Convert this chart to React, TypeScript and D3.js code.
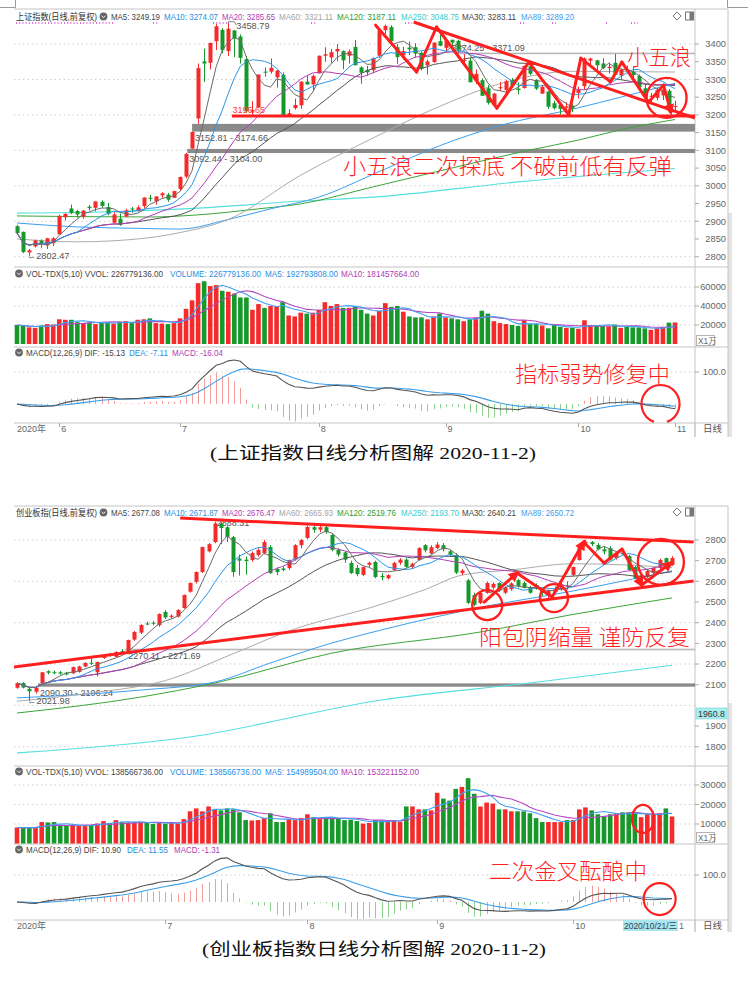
import React from 'react';
import * as d3 from 'd3';

type OHLC = [number, number, number, number];
type Knot = [number, number];

// ====================== 上证指数 (daily, 2020-05-21 .. 2020-11-02) ======================
const SH_OHLC: OHLC[] = [
  [2886, 2890, 2864, 2867], [2870, 2871, 2810, 2813], [2812, 2822, 2802.47, 2818], [2829, 2848, 2826, 2846],
  [2845, 2849, 2825, 2837], [2832, 2853, 2822, 2852], [2838, 2855, 2830, 2852],
  [2863, 2919, 2863, 2915], [2911, 2922, 2902, 2921], [2936, 2947, 2920, 2923], [2929, 2932, 2910, 2919],
  [2913, 2932, 2907, 2930], [2941, 2946, 2930, 2937], [2938, 2956, 2928, 2956], [2955, 2959, 2938, 2943],
  [2940, 2952, 2917, 2921], [2896, 2925, 2894, 2919], [2907, 2922, 2887, 2890], [2913, 2935, 2913, 2931],
  [2936, 2940, 2924, 2935], [2929, 2945, 2928, 2939], [2943, 2967, 2937, 2967], [2966, 2975, 2956, 2965],
  [2956, 2970, 2947, 2970], [2973, 2982, 2966, 2979], [2975, 2980, 2955, 2961], [2966, 2986, 2966, 2985],
  [2991, 3026, 2985, 3025], [3026, 3092.44, 3021, 3090], [3105, 3152.81, 3104, 3152], [3190, 3345, 3174.66, 3332],
  [3351, 3387, 3293, 3345], [3347, 3404, 3328, 3403], [3408, 3456, 3383, 3450], [3440, 3445, 3374, 3383],
  [3380, 3458.79, 3366, 3443], [3438, 3440, 3363, 3415], [3421, 3427, 3345, 3361], [3357, 3366, 3205, 3210],
  [3209, 3239, 3200, 3214], [3221, 3314, 3221, 3314], [3322, 3334, 3308, 3320], [3322, 3359, 3316, 3333],
  [3306, 3327, 3277, 3325], [3313, 3320, 3196.65, 3197], [3197, 3216, 3197, 3205], [3219, 3246, 3215, 3228],
  [3227, 3294, 3217, 3294], [3294, 3311, 3285, 3286], [3286, 3314, 3270, 3310],
  [3317, 3367, 3317, 3367], [3367, 3391, 3350, 3371], [3362, 3386, 3347, 3377], [3379, 3400, 3351, 3386],
  [3380, 3382, 3329, 3354], [3367, 3385, 3345, 3379], [3392, 3411, 3340, 3340], [3334, 3337, 3288, 3319],
  [3327, 3338, 3311, 3320], [3326, 3362, 3317, 3360], [3367, 3438, 3361, 3438], [3439, 3455, 3428, 3451],
  [3448, 3453, 3401, 3408], [3391, 3400, 3344, 3363], [3368, 3392, 3356, 3380], [3390, 3407, 3369, 3385],
  [3391, 3402, 3361, 3373], [3375, 3379, 3326, 3330], [3340, 3356, 3314, 3351], [3349, 3404, 3347, 3404],
  [3408, 3426, 3394, 3395],
  [3389, 3412, 3380, 3410], [3412, 3412, 3389, 3404], [3409, 3412, 3374.25, 3384], [3354, 3371.09, 3345, 3355],
  [3353, 3362, 3292, 3292], [3296, 3328, 3287, 3316], [3298, 3303, 3254, 3254], [3275, 3284, 3229, 3234],
  [3227, 3262, 3222, 3260], [3276, 3293, 3268, 3278], [3270, 3299, 3262, 3295], [3299, 3304, 3282, 3283],
  [3274, 3292, 3258, 3270], [3276, 3339, 3274, 3338], [3337, 3341, 3312, 3316], [3299, 3300, 3270, 3274],
  [3260, 3285, 3260, 3279], [3266, 3266, 3217, 3223], [3233, 3240, 3215, 3219], [3228, 3233, 3201, 3217],
  [3220, 3236, 3213, 3224], [3226, 3230, 3208, 3218],
  [3262, 3280, 3246, 3272], [3281, 3362, 3271, 3359], [3353, 3361, 3335, 3359], [3354, 3355, 3327, 3340],
  [3345, 3360, 3329, 3332], [3332, 3348, 3317, 3336], [3347, 3372, 3313, 3313], [3311, 3330, 3300, 3328],
  [3329, 3339, 3317, 3325], [3322, 3336, 3306, 3312], [3310, 3314, 3269, 3278], [3275, 3290, 3243, 3251],
  [3253, 3262, 3236, 3254], [3248, 3276, 3241, 3270], [3255, 3275, 3242, 3272], [3268, 3273, 3220, 3225],
  [3223, 3240, 3209, 3225],
];
const SH_VOL: number[] = [
  20000, 19000, 17500, 17000, 19500, 21000, 20500,
  26000, 25500, 25500, 23000, 22000, 22500, 21000, 22500, 23000, 21500, 23500, 24000, 22000, 25500, 26000, 27000, 22000, 21500, 21000, 22000,
  27000, 37000, 46000, 64000, 66000, 61000, 62000, 56000, 55000, 53000, 49000, 49000, 36000, 42000, 38000, 40000, 40000, 44000, 30000, 29000, 33000, 32000, 33000,
  36000, 44000, 40000, 42000, 38000, 38000, 40000, 36000, 32000, 30000, 35000, 43000, 39000, 40000, 34000, 29000, 28000, 28000, 26000, 29000, 32000,
  28000, 27000, 26000, 24000, 26000, 28000, 35000, 32000, 24000, 22000, 21000, 20000, 19000, 25000, 21000, 21000, 19500, 16500, 20500, 18000, 17000, 17000,
  16000, 25000, 20000, 19000, 19000, 18500, 20500, 17000, 18000, 17500, 17500, 16500, 15000, 16500, 17500, 22500, 22678,
];
const SH_MA60: Knot[] = [[0, 2850], [10, 2842], [20, 2850], [27, 2868], [35, 2905], [47, 3030], [59, 3135], [70, 3224], [80, 3288], [92, 3323], [100, 3322], [109, 3321]];
const SH_MA89: Knot[] = [[0, 2895], [10, 2884], [20, 2880], [27, 2878], [35, 2905], [42, 2935], [50, 2968], [60, 3040], [70, 3113], [80, 3170], [93, 3220], [100, 3250], [109, 3289]];
const SH_MA120: Knot[] = [[0, 2915], [22, 2912], [30, 2918], [40, 2935], [47, 2949], [59, 2997], [72, 3050], [85, 3101], [93, 3129], [100, 3158], [109, 3187]];
const SH_MA250: Knot[] = [[0, 2923], [14, 2926], [30, 2937], [47, 2957], [59, 2968], [83, 3011], [109, 3049]];
const SH_MONTHS: [number, string][] = [[7, '6'], [27, '7'], [50, '8'], [71, '9'], [93, '10'], [109, '11']];
const SH_PRICE_TICKS = [2800, 2850, 2900, 2950, 3000, 3050, 3100, 3150, 3200, 3250, 3300, 3350, 3400];
const SH_PRICE_GRID = [2800, 2900, 3000, 3100, 3200, 3300, 3400];
const SH_VOL_TICKS = [20000, 40000, 60000];
const SH_HEADER = ['上证指数(日线,前复权)', 'MA5: 3249.19', 'MA10: 3274.07', 'MA20: 3285.65', 'MA60: 3321.11', 'MA120: 3187.11', 'MA250: 3048.75', 'MA30: 3283.11', 'MA89: 3289.20'];
const SH_VOL_HEADER = ['VOL-TDX(5,10) VVOL: 226779136.00', 'VOLUME: 226779136.00', 'MA5: 192793808.00', 'MA10: 181457664.00'];
const SH_MACD_HEADER = ['MACD(12,26,9) DIF: -15.13', 'DEA: -7.11', 'MACD: -16.04'];
const SH_GAPS: [number, number, number][] = [[72.5, 3371.09, 3374.25], [29, 3152.81, 3174.66], [28.2, 3092.44, 3104.0]];
const SH_GAP_LABELS = ['3374.25 - 3371.09', '3152.81 - 3174.66', '3092.44 - 3104.00'];
const SH_HIGH_MARK: Knot = [35, 3458.79];
const SH_LOW_MARK: Knot = [2, 2802.47];
const SH_ZIGZAG: Knot[] = [[59.4, 3453], [66.2, 3321], [69.5, 3448], [79.5, 3219], [84.8, 3349], [91.4, 3200], [93.4, 3360], [98.3, 3293], [100.2, 3349], [104.6, 3236], [107.1, 3284], [108.3, 3208]];
const SH_TREND: Knot[] = [[65.7, 3462], [112.3, 3191]];
const SH_SUPPORT: Knot[] = [[35.6, 3196.65], [112.3, 3196.65]];
const SH_CIRCLE: Knot = [107.6, 3248];
const SH_MACD_CIRCLE: Knot = [106.6, 0];
const SH_NOTES = ['小五浪', '小五浪二次探底  不破前低有反弹', '指标弱势修复中'];
const SH_CAPTION = '(上证指数日线分析图解 2020-11-2)';

// ====================== 创业板指 (daily, 2020-05-26 .. 2020-11-02) ======================
const CY_OHLC: OHLC[] = [
  [2085, 2112, 2080, 2108], [2108, 2112, 2082, 2086], [2080, 2086, 2021.98, 2068], [2066, 2090.3, 2058, 2086],
  [2107, 2162, 2106.24, 2160], [2165, 2170, 2150, 2158], [2160, 2168, 2150, 2159], [2160, 2166, 2148, 2154],
  [2158, 2162, 2145, 2150], [2155, 2188, 2152, 2185], [2162, 2192, 2158, 2188], [2188, 2210, 2185, 2205],
  [2206, 2228, 2195, 2204], [2160, 2212, 2140, 2210], [2232, 2245, 2225, 2234], [2246, 2255, 2236, 2243],
  [2235, 2262, 2230, 2258], [2262, 2272, 2255, 2260], [2260, 2318, 2258, 2316], [2318, 2360, 2312, 2355],
  [2352, 2392, 2345, 2389], [2396, 2405, 2388, 2394], [2400, 2408, 2388, 2396], [2388, 2445, 2380, 2442],
  [2452, 2460, 2418, 2425], [2428, 2440, 2420, 2434], [2430, 2465, 2425, 2461], [2471, 2536, 2468, 2534],
  [2550, 2594, 2545, 2592], [2598, 2648, 2590, 2645], [2645, 2768, 2640, 2766], [2745, 2785, 2740, 2780],
  [2790, 2888.31, 2785, 2880], [2880, 2886, 2780, 2858], [2862, 2870, 2790, 2814], [2814, 2820, 2622, 2645],
  [2710, 2730, 2628, 2700], [2705, 2720, 2632, 2698], [2703, 2745, 2695, 2737], [2727, 2760, 2720, 2752],
  [2737, 2800, 2730, 2790], [2766, 2775, 2636, 2640], [2660, 2668, 2630, 2645], [2662, 2672, 2648, 2655],
  [2664, 2705, 2655, 2703], [2706, 2780, 2700, 2775], [2775, 2805, 2760, 2800],
  [2810, 2870, 2805, 2863], [2862, 2868, 2835, 2850], [2850, 2872, 2838, 2862], [2862, 2870, 2830, 2838],
  [2824, 2830, 2745, 2752], [2752, 2760, 2720, 2730], [2740, 2745, 2690, 2705], [2689, 2700, 2635, 2640],
  [2665, 2680, 2625, 2635], [2631, 2672, 2625, 2669], [2680, 2695, 2670, 2690], [2694, 2700, 2615, 2621],
  [2626, 2640, 2605, 2620], [2615, 2635, 2610, 2630], [2655, 2695, 2650, 2689], [2690, 2712, 2680, 2705],
  [2705, 2712, 2665, 2670], [2670, 2690, 2660, 2685], [2703, 2765, 2700, 2761], [2775, 2780, 2740, 2750],
  [2735, 2775, 2730, 2765],
  [2761, 2790, 2755, 2778], [2775, 2785, 2745, 2755], [2745, 2752, 2722, 2728], [2727, 2735, 2635, 2642],
  [2640, 2660, 2630, 2652], [2605, 2612, 2490, 2496], [2534, 2545, 2480, 2487], [2495, 2548, 2490, 2544],
  [2544, 2598, 2540, 2592], [2570, 2595, 2560, 2588], [2592, 2596, 2550, 2556], [2545, 2575, 2538, 2570],
  [2562, 2595, 2555, 2590], [2606, 2612, 2570, 2578], [2592, 2600, 2565, 2568], [2572, 2578, 2540, 2545],
  [2582, 2590, 2560, 2565], [2558, 2565, 2530, 2545], [2535, 2560, 2520, 2555], [2548, 2575, 2540, 2565],
  [2560, 2600, 2555, 2585], [2580, 2600, 2560, 2575],
  [2631, 2672, 2625, 2669], [2703, 2780, 2700, 2776], [2785, 2800, 2770, 2792], [2790, 2795, 2770, 2780],
  [2776, 2785, 2750, 2755], [2755, 2768, 2730, 2745], [2760, 2770, 2700, 2705], [2712, 2740, 2705, 2735],
  [2740, 2750, 2725, 2730], [2722, 2728, 2650, 2655], [2669, 2675, 2610, 2615], [2615, 2640, 2598, 2630],
  [2621, 2658, 2615, 2650], [2640, 2668, 2635, 2665], [2665, 2710, 2660, 2703], [2712, 2715, 2680, 2690],
  [2679, 2722, 2675, 2713],
];
const CY_VOL: number[] = [
  8200, 8000, 8300, 8000, 11000, 10800, 11000, 9000, 9000, 9200, 9000, 9400, 9500, 10200, 11500, 10500, 12000, 11000, 10800, 11000, 11000, 10500, 10000, 10800,
  10200, 10500, 10300, 12500, 16500, 18000, 16500, 19000, 17500, 17000, 18000, 17500, 16000, 12000, 11800, 12000, 13000, 15500, 11000, 11000, 12500, 12000, 13000,
  15000, 13500, 12500, 13000, 13500, 13000, 12000, 12200, 11500, 10200, 10500, 12000, 11800, 11500, 12000, 11000, 19000, 19000, 17500, 17500, 17000,
  26000, 23000, 22000, 28000, 29000, 33500, 25500, 19000, 21000, 20500, 17500, 17500, 16500, 16500, 16500, 15500, 13000, 11000, 11000, 11000, 11000, 12000,
  12000, 17500, 18500, 17000, 15000, 14000, 15000, 15500, 16000, 16000, 15500, 13500, 15000, 15000, 15500, 18000, 13857,
];
const CY_MA60: Knot[] = [[0, 2020], [12, 2060], [24, 2120], [35, 2250], [44, 2360], [58, 2480], [66, 2560], [72, 2630], [80, 2655], [90, 2685], [98, 2680], [106, 2666]];
const CY_MA89: Knot[] = [[0, 2036], [20, 2074], [32, 2113], [41, 2205], [51, 2302], [59, 2365], [76, 2480], [89, 2548], [106, 2651]];
const CY_MA120: Knot[] = [[0, 1963], [20, 2040], [32, 2108], [51, 2253], [75, 2355], [90, 2440], [106, 2520]];
const CY_MA250: Knot[] = [[0, 1770], [28, 1847], [59, 2026], [83, 2108], [106, 2194]];
const CY_MONTHS: [number, string][] = [[24, '7'], [47, '8'], [68, '9'], [90, '10']];
const CY_PRICE_TICKS = [1800, 1900, 2100, 2200, 2300, 2400, 2500, 2600, 2700, 2800];
const CY_PRICE_GRID = [1800, 2000, 2200, 2400, 2600, 2800];
const CY_VOL_TICKS = [10000, 20000, 30000];
const CY_HEADER = ['创业板指(日线,前复权)', 'MA5: 2677.08', 'MA10: 2671.87', 'MA20: 2676.47', 'MA60: 2665.93', 'MA120: 2519.76', 'MA250: 2193.70', 'MA30: 2640.21', 'MA89: 2650.72'];
const CY_VOL_HEADER = ['VOL-TDX(5,10) VVOL: 138566736.00', 'VOLUME: 138566736.00', 'MA5: 154989504.00', 'MA10: 153221152.00'];
const CY_MACD_HEADER = ['MACD(12,26,9) DIF: 10.90', 'DEA: 11.55', 'MACD: -1.31'];
const CY_GAPS: [number, number, number][] = [[17.5, 2270.11, 2271.69], [3.4, 2090.3, 2106.24]];
const CY_GAP_LABELS = ['2270.11 - 2271.69', '2090.30 - 2106.24'];
const CY_HIGH_MARK: Knot = [32, 2888.31];
const CY_LOW_MARK: Knot = [2, 2021.98];
const CY_ZIGZAG: Knot[] = [[75.6, 2500], [80.9, 2640], [86.6, 2524], [91.7, 2790], [95.0, 2689], [97.9, 2756], [101.1, 2582], [105.8, 2689]];
const CY_UPPER: Knot[] = [[26.4, 2906], [109.5, 2790]];
const CY_LOWER: Knot[] = [[-0.5, 2186], [109.5, 2602]];
const CY_CIRCLES: Knot[] = [[76.1, 2485], [86.9, 2519], [104.2, 2694]];
const CY_VOL_CIRCLE: Knot = [101.3, 12600];
const CY_MACD_CIRCLE: Knot = [104, 11];
const CY_CURSOR_PRICE = '1960.8';
const CY_CURSOR_DATE = '2020/10/21/三';
const CY_NOTES = ['阳包阴缩量 谨防反复', '二次金叉酝酿中'];
const CY_CAPTION = '(创业板指数日线分析图解 2020-11-2)';

// ====================== helpers ======================
const W = 748;
const H = 992;
const RED = '#f52b2b';
const GREEN = '#16992a';
const ANN = '#ff1f1f';
const SANS = '"Liberation Sans", Arial, "Noto Sans CJK SC", sans-serif';
const CJK = '"Noto Sans CJK SC", sans-serif';
const GRID = '#cfcfcf';
const FRAME = '#c4c4c4';

const HEADER_X = [16, 111, 164, 222, 279, 337, 401, 462, 521];
const HEADER_W = [81, 49, 54, 53, 54, 59, 58, 54, 53];
const HEADER_C = ['#333', '#444', '#1f8fe6', '#b23bb4', '#a3a3a3', '#2e9e2e', '#35cdd0', '#444', '#3a9cf0'];
const VOLH_X = [26, 170, 265, 341];
const VOLH_W = [137, 91, 73, 78];
const VOLH_C = ['#444', '#1f8fe6', '#1f8fe6', '#b23bb4'];
const MACDH_C = ['#444', '#1f8fe6', '#b23bb4'];

function sma(vals: number[], n: number): number[] {
  return vals.map((_, i) => d3.mean(vals.slice(Math.max(0, i - n + 1), i + 1)) as number);
}
function ema(vals: number[], n: number): number[] {
  const k = 2 / (n + 1);
  const out: number[] = [];
  vals.forEach((v, i) => out.push(i === 0 ? v : out[i - 1] + k * (v - out[i - 1])));
  return out;
}

function Txt(p: any) {
  const { x, y, w, children, size = 8.6, fill = '#444', family = SANS, anchor, weight } = p;
  return (
    <text x={x} y={y} fontSize={size} fill={fill} fontFamily={family} textAnchor={anchor} fontWeight={weight}
      textLength={w} lengthAdjust={w ? 'spacingAndGlyphs' : undefined}>{children}</text>
  );
}

function Icon({ x, y }: { x: number; y: number }) {
  return (
    <g>
      <circle cx={x} cy={y} r={3.9} fill="#666" />
      <path d={`M${x - 1.8},${y - 0.8} L${x},${y + 1.2} L${x + 1.8},${y - 0.8}`} stroke="#fff" strokeWidth={0.9} fill="none" />
    </g>
  );
}

function openArc(cx: number, cy: number, r: number, gapFrom: number, gapTo: number) {
  const a0 = (gapTo * Math.PI) / 180;
  const a1 = ((gapFrom + 360) * Math.PI) / 180;
  const p = d3.path();
  p.arc(cx, cy, r, a0, a1, false);
  return p.toString();
}

type Cfg = any;

function KChart({ c }: { c: Cfg }) {
  const n = c.ohlc.length;
  const L = 14, R = 695, OR = 728;
  const x = d3.scaleLinear().domain([0, n - 1]).range(c.xRange);
  const y = d3.scaleLinear().domain(c.priceDomain).range(c.priceRange);
  const yv = d3.scaleLinear().domain([0, c.volMax]).range(c.volRange);
  const ym = d3.scaleLinear().domain([0, 100]).range(c.macdRange);
  const closes: number[] = c.ohlc.map((d: OHLC) => d[3]);
  const up = (d: OHLC) => d[3] >= d[0];

  const calcLine = d3.line<number>().x((_, i) => x(i)).y((d) => y(d));
  const knotLine = d3.line<Knot>().x((d) => x(d[0])).y((d) => y(d[1])).curve(d3.curveMonotoneX);
  const volLine = d3.line<number>().x((_, i) => x(i)).y((d) => yv(d));
  const macdLine = d3.line<number>().x((_, i) => x(i)).y((d) => ym(d));
  const straight = d3.line<Knot>().x((d) => x(d[0])).y((d) => y(d[1]));

  const ma5 = sma(closes, 5), ma10 = sma(closes, 10), ma20 = sma(closes, 20), ma30 = sma(closes, 30);
  const vma5 = sma(c.vol, 5), vma10 = sma(c.vol, 10);
  const e12 = ema(closes, 12), e26 = ema(closes, 26);
  const dif = closes.map((_, i) => e12[i] - e26[i]);
  const dea = ema(dif, 9);
  const bar = dif.map((d, i) => 2 * (d - dea[i]));

  const id = c.id;
  const T = c.frameTop, MB = c.mainBot, VB = c.volBot, KB = c.macdBot, AB = c.axisBot;
  const bw = 4;

  return (
    <g>
      <defs>
        <clipPath id={`cm-${id}`}><rect x={L} y={T + 1} width={R - L} height={MB - T - 1} /></clipPath>
        <clipPath id={`cv-${id}`}><rect x={L} y={MB + 1} width={R - L} height={VB - MB - 1} /></clipPath>
        <clipPath id={`ck-${id}`}><rect x={L} y={VB + 1} width={R - L} height={KB - VB - 1} /></clipPath>
      </defs>

      <rect x={OR} y={c.stripTop} width={4} height={AB - c.stripTop} fill="#e4e4e4" />

      {c.priceGrid.map((v: number) => (
        <line key={'g' + v} x1={L} x2={R} y1={y(v)} y2={y(v)} stroke={GRID} strokeDasharray="1.5,3" />
      ))}
      {c.volTicks.map((v: number) => (
        <line key={'vg' + v} x1={L} x2={R} y1={yv(v)} y2={yv(v)} stroke={GRID} strokeDasharray="1.5,3" />
      ))}
      <line x1={L} x2={R} y1={ym(100)} y2={ym(100)} stroke={GRID} strokeDasharray="1.5,3" />

      <line x1={L} x2={OR} y1={T} y2={T} stroke={FRAME} />
      <line x1={L} x2={OR} y1={MB} y2={MB} stroke={FRAME} />
      <line x1={L} x2={OR} y1={VB} y2={VB} stroke={FRAME} />
      <line x1={L} x2={OR} y1={KB} y2={KB} stroke={FRAME} />
      <line x1={R} x2={R} y1={T} y2={AB} stroke={FRAME} />
      <line x1={OR} x2={OR} y1={T} y2={AB} stroke={FRAME} />

      {c.header.map((s: string, i: number) => (
        <Txt key={'h' + i} x={HEADER_X[i]} y={c.headerY} w={HEADER_W[i]} fill={HEADER_C[i]}>{s}</Txt>
      ))}
      <Icon x={103.5} y={c.headerY - 3} />
      <g>
        <path d={`M677,${c.headerY - 7.5} l4,4 l-4,4 l-4,-4 z`} fill="none" stroke="#777" />
        <rect x={685.5} y={c.headerY - 7.5} width={8} height={8} fill="none" stroke="#777" />
        <rect x={689.5} y={c.headerY - 7.5} width={4} height={8} fill="#777" />
      </g>
      {c.magenta && c.magenta.map((m: [number, number], i: number) => (
        <line key={'mg' + i} x1={m[0]} x2={m[1]} y1={c.headerY + 3.5} y2={c.headerY + 3.5} stroke="#d23bd2" strokeWidth={1.3} strokeDasharray="1,2.2" />
      ))}
      <Icon x={19} y={c.volHeaderY - 3} />
      {c.volHeader.map((s: string, i: number) => (
        <Txt key={'vh' + i} x={VOLH_X[i]} y={c.volHeaderY} w={VOLH_W[i]} fill={VOLH_C[i]}>{s}</Txt>
      ))}
      <Icon x={19} y={c.macdHeaderY - 3} />
      {c.macdHeader.map((s: string, i: number) => (
        <Txt key={'mh' + i} x={c.macdHX[i]} y={c.macdHeaderY} w={c.macdHW[i]} fill={MACDH_C[i]}>{s}</Txt>
      ))}

      {c.priceTicks.map((v: number) => (
        <g key={'t' + v}>
          <line x1={R} x2={R + 4} y1={y(v)} y2={y(v)} stroke="#aaa" />
          <Txt x={726} y={y(v) + 3.3} anchor="end" size={9.3} fill="#666">{String(v)}</Txt>
        </g>
      ))}
      {c.volTicks.map((v: number) => (
        <g key={'vt' + v}>
          <line x1={R} x2={R + 4} y1={yv(v)} y2={yv(v)} stroke="#aaa" />
          <Txt x={726} y={yv(v) + 3.3} anchor="end" size={9.3} fill="#666">{String(v)}</Txt>
        </g>
      ))}
      <line x1={R} x2={R + 4} y1={ym(100)} y2={ym(100)} stroke="#aaa" />
      <Txt x={726} y={ym(100) + 3.3} anchor="end" size={9.3} fill="#666">100.0</Txt>
      <rect x={696.5} y={c.x1wY} width={18} height={10} fill="#fff" stroke="#b5b5b5" />
      <Txt x={698} y={c.x1wY + 8} size={8.3} fill="#666">X1万</Txt>
      {c.cursorPrice && (
        <g>
          <rect x={696} y={y(c.cursorPriceAt) - 5.5} width={31} height={11} fill="#a6eef0" stroke="#7fd0d6" strokeWidth={0.6} />
          <Txt x={698} y={y(c.cursorPriceAt) + 3.3} size={8.8} fill="#333">{c.cursorPrice}</Txt>
        </g>
      )}

      <Txt x={17} y={c.axisY} size={9} fill="#666">2020年</Txt>
      {c.months.map((m: [number, string]) => (
        <g key={'m' + m[1]}>
          <line x1={Math.round(x(m[0])) + 0.5} x2={Math.round(x(m[0])) + 0.5} y1={KB} y2={KB + 4} stroke="#aaa" />
          <Txt x={x(m[0]) + 2} y={c.axisY} size={9} fill="#666">{m[1]}</Txt>
        </g>
      ))}
      {c.cursorDate && (
        <g>
          <rect x={623} y={c.axisY - 9} width={55} height={11} fill="#a9e6ee" />
          <Txt x={624} y={c.axisY} w={53} size={8.8} fill="#345">{c.cursorDate}</Txt>
          <Txt x={679} y={c.axisY} size={9} fill="#666">1</Txt>
        </g>
      )}
      <line x1={R} x2={R} y1={KB} y2={AB} stroke={FRAME} />
      <Txt x={703} y={c.axisY} size={9.5} fill="#555" family={CJK}>日线</Txt>

      <g clipPath={`url(#cm-${id})`}>
        {c.gaps.map((g: [number, number, number], i: number) => {
          const y1 = y(g[2]), y2 = y(g[1]);
          const light = c.gapLight[i];
          return (
            <rect key={'gap' + i} x={x(g[0])} y={Math.min(y1, y2) - (light ? 0.5 : 0)} width={R - x(g[0])}
              height={Math.max(light ? 1.6 : 3, Math.abs(y2 - y1))} fill={light ? '#b8b8b8' : '#8a8a8a'} />
          );
        })}
        {c.gapLabels.map((s: string, i: number) => {
          const g = c.gaps[i];
          const above = c.gapAbove[i];
          const yy = above ? y(g[2]) - 2.5 : y(g[1]) + 9;
          return <Txt key={'gl' + i} x={x(g[0]) + c.gapLabelDx[i]} y={yy} size={9} fill="#555">{s}</Txt>;
        })}
        {c.highLabelUnder && (
          <Txt x={x(c.highMark[0]) + 2} y={y(c.highMark[1]) + 4} size={9} fill="#555">{c.highMark[1].toFixed(2)}</Txt>
        )}

        <path d={knotLine(c.ma250) || ''} fill="none" stroke="#56dede" strokeWidth={1.1} />
        <path d={knotLine(c.ma120) || ''} fill="none" stroke="#3aa63a" strokeWidth={1} />
        <path d={knotLine(c.ma89) || ''} fill="none" stroke="#3b9ff0" strokeWidth={1} />
        <path d={knotLine(c.ma60) || ''} fill="none" stroke="#ababab" strokeWidth={1} />

        {c.ohlc.map((d: OHLC, i: number) => {
          const col = up(d) ? RED : GREEN;
          const cx = Math.round(x(i)) + 0.5;
          const top = y(Math.max(d[0], d[3]));
          const bot = y(Math.min(d[0], d[3]));
          return (
            <g key={'c' + i}>
              <line x1={cx} x2={cx} y1={y(d[1])} y2={y(d[2])} stroke={col} />
              <rect x={cx - bw / 2} y={top} width={bw} height={Math.max(1, bot - top)} fill={col} />
            </g>
          );
        })}

        <path d={calcLine(ma30) || ''} fill="none" stroke="#555" strokeWidth={1} />
        <path d={calcLine(ma20) || ''} fill="none" stroke="#b43cb6" strokeWidth={1} />
        <path d={calcLine(ma10) || ''} fill="none" stroke="#2896ec" strokeWidth={1} />
        <path d={calcLine(ma5) || ''} fill="none" stroke="#6a6a6a" strokeWidth={1} />

        {!c.highLabelUnder && (
          <g>
            <path d={`M${x(c.highMark[0])},${y(c.highMark[1]) + 1} l0,-2.5 l6,0 l2,3.5`} fill="none" stroke="#666" strokeWidth={0.8} />
            <Txt x={x(c.highMark[0]) + 8} y={y(c.highMark[1]) + 6} size={9.2} fill="#555">{c.highMark[1].toFixed(2)}</Txt>
          </g>
        )}
        <Txt x={x(c.lowMark[0]) - 2} y={y(c.lowMark[1]) + 3} size={9.2} fill="#555">{'←' + c.lowMark[1].toFixed(2)}</Txt>
        {c.supportLabel && (
          <Txt x={x(c.support[0][0]) + 0.5} y={y(c.support[0][1]) - 3.5} size={9} fill="#ff3b3b">{c.supportLabel}</Txt>
        )}

        {c.lines.map((ln: Knot[], i: number) => (
          <path key={'rl' + i} d={straight(ln) || ''} stroke={ANN} strokeWidth={3} fill="none" />
        ))}
        {c.zigzag.slice(1).map((p: Knot, i: number) => {
          const a = c.zigzag[i];
          return (
            <line key={'z' + i} x1={x(a[0])} y1={y(a[1])} x2={x(p[0])} y2={y(p[1])} stroke={ANN} strokeWidth={3}
              strokeLinecap="round" markerEnd={c.arrowSegs.includes(i) ? 'url(#arr)' : undefined} />
          );
        })}
        {c.circles.map((cc: Knot, i: number) => (
          <circle key={'cc' + i} cx={x(cc[0])} cy={y(cc[1])} r={c.circleR[i]} fill="none" stroke={ANN} strokeWidth={2.4} />
        ))}
      </g>

      <g clipPath={`url(#cv-${id})`}>
        {c.vol.map((v: number, i: number) => (
          <rect key={'v' + i} x={x(i) - 2.3} y={yv(v)} width={4.6} height={yv(0) - yv(v)} fill={up(c.ohlc[i]) ? RED : GREEN} />
        ))}
        <path d={volLine(vma10) || ''} fill="none" stroke="#b548c2" strokeWidth={1.1} />
        <path d={volLine(vma5) || ''} fill="none" stroke="#3f9ff0" strokeWidth={1.1} />
        {c.volCircle && (
          <ellipse cx={x(c.volCircle[0])} cy={yv(c.volCircle[1])} rx={11} ry={14} fill="none" stroke={ANN} strokeWidth={2.2} />
        )}
      </g>

      <g clipPath={`url(#ck-${id})`}>
        {bar.map((b, i) => (
          <line key={'b' + i} x1={Math.round(x(i)) + 0.5} x2={Math.round(x(i)) + 0.5} y1={ym(0)} y2={ym(b)}
            stroke={b >= 0 ? '#f39c9c' : '#8fd08f'} strokeWidth={1} />
        ))}
        <path d={macdLine(dea) || ''} fill="none" stroke="#3a9eea" strokeWidth={1.1} />
        <path d={macdLine(dif) || ''} fill="none" stroke="#555" strokeWidth={1.1} />
      </g>
      {c.macdCircleOpen ? (
        <path d={openArc(x(c.macdCircle[0]), ym(c.macdCircle[1]), 19, 70, 110)} fill="none" stroke={ANN} strokeWidth={2.2} />
      ) : (
        <circle cx={x(c.macdCircle[0])} cy={ym(c.macdCircle[1])} r={16} fill="none" stroke={ANN} strokeWidth={2.2} />
      )}
    </g>
  );
}

const SH_CFG: Cfg = {
  id: 'sh', ohlc: SH_OHLC, vol: SH_VOL, ma60: SH_MA60, ma89: SH_MA89, ma120: SH_MA120, ma250: SH_MA250,
  xRange: [17, 675], priceDomain: [2800, 3400], priceRange: [256.7, 44], volMax: 60000, volRange: [344, 287], macdRange: [404, 372],
  frameTop: 9, mainBot: 267, volBot: 347, macdBot: 423, axisBot: 437, stripTop: 213,
  headerY: 19.5, volHeaderY: 276.5, macdHeaderY: 355.5, axisY: 432, x1wY: 335.5,
  header: SH_HEADER, volHeader: SH_VOL_HEADER, macdHeader: SH_MACD_HEADER, macdHX: [26, 129, 172], macdHW: [99, 39, 51],
  magenta: [[16, 113], [153, 159], [213, 228], [311, 316], [405, 412], [416, 421], [520, 525], [552, 556], [606, 609], [631, 638]],
  priceTicks: SH_PRICE_TICKS, priceGrid: SH_PRICE_GRID, volTicks: SH_VOL_TICKS, months: SH_MONTHS,
  gaps: SH_GAPS, gapLabels: SH_GAP_LABELS, gapLight: [true, false, false], gapAbove: [true, false, false], gapLabelDx: [-3, 3, 2],
  highMark: SH_HIGH_MARK, lowMark: SH_LOW_MARK, highLabelUnder: false,
  support: SH_SUPPORT, supportLabel: '3196.65',
  lines: [SH_SUPPORT, SH_TREND], zigzag: SH_ZIGZAG, arrowSegs: [10],
  circles: [SH_CIRCLE], circleR: [20],
  macdCircle: SH_MACD_CIRCLE, macdCircleOpen: true,
};

const CY_CFG: Cfg = {
  id: 'cy', ohlc: CY_OHLC, vol: CY_VOL, ma60: CY_MA60, ma89: CY_MA89, ma120: CY_MA120, ma250: CY_MA250,
  xRange: [17, 672], priceDomain: [1800, 2800], priceRange: [746.7, 540], volMax: 30000, volRange: [843.5, 785], macdRange: [902, 875],
  frameTop: 506, mainBot: 766, volBot: 844, macdBot: 920, axisBot: 932, stripTop: 703,
  headerY: 515.5, volHeaderY: 774.5, macdHeaderY: 852.5, axisY: 929, x1wY: 832.5,
  header: CY_HEADER, volHeader: CY_VOL_HEADER, macdHeader: CY_MACD_HEADER, macdHX: [26, 127, 174], macdHW: [95, 41, 46],
  magenta: null,
  priceTicks: CY_PRICE_TICKS, priceGrid: CY_PRICE_GRID, volTicks: CY_VOL_TICKS, months: CY_MONTHS,
  gaps: CY_GAPS, gapLabels: CY_GAP_LABELS, gapLight: [true, false], gapAbove: [false, false], gapLabelDx: [3, 2],
  highMark: CY_HIGH_MARK, lowMark: CY_LOW_MARK, highLabelUnder: true,
  support: null, supportLabel: null,
  lines: [CY_UPPER, CY_LOWER], zigzag: CY_ZIGZAG, arrowSegs: [0, 2, 5, 6],
  circles: CY_CIRCLES, circleR: [15, 14, 23],
  volCircle: CY_VOL_CIRCLE,
  macdCircle: CY_MACD_CIRCLE, macdCircleOpen: false,
  cursorPrice: CY_CURSOR_PRICE, cursorPriceAt: 1960.8, cursorDate: CY_CURSOR_DATE,
};

export default function App() {
  return (
    <div style={{ position: 'absolute', left: 0, top: 0, width: W, height: H, background: '#fff' }}>
      <svg width={W} height={H} style={{ display: 'block' }}>
        <defs>
          <marker id="arr" viewBox="0 0 10 10" refX="7" refY="5" markerWidth="3.6" markerHeight="3.6" orient="auto">
            <path d="M0,0 L10,5 L0,10 z" fill={ANN} />
          </marker>
        </defs>
        <rect width={W} height={H} fill="#fff" />
        <path d="M0,7.5 H15.5 V0" fill="none" stroke="#999" />
        <path d="M748,7.5 H727.5 V0" fill="none" stroke="#999" />

        <KChart c={SH_CFG} />
        <KChart c={CY_CFG} />

        <Txt x={627} y={65} w={64} size={22} fill={ANN} family={CJK} weight={300}>{SH_NOTES[0]}</Txt>
        <Txt x={343} y={174} w={329} size={22} fill={ANN} family={CJK} weight={300}>{SH_NOTES[1]}</Txt>
        <Txt x={515} y={382} w={155} size={22} fill={ANN} family={CJK} weight={300}>{SH_NOTES[2]}</Txt>
        <Txt x={479} y={645} w={211} size={22} fill={ANN} family={CJK} weight={300}>{CY_NOTES[0]}</Txt>
        <Txt x={489} y={879} w={158} size={22} fill={ANN} family={CJK} weight={300}>{CY_NOTES[1]}</Txt>

        <Txt x={210} y={459} w={326} size={17} fill="#111" family={'"Liberation Serif", "Noto Sans CJK SC", serif'}>{SH_CAPTION}</Txt>
        <Txt x={202} y={955} w={344} size={17} fill="#111" family={'"Liberation Serif", "Noto Sans CJK SC", serif'}>{CY_CAPTION}</Txt>
      </svg>
    </div>
  );
}
